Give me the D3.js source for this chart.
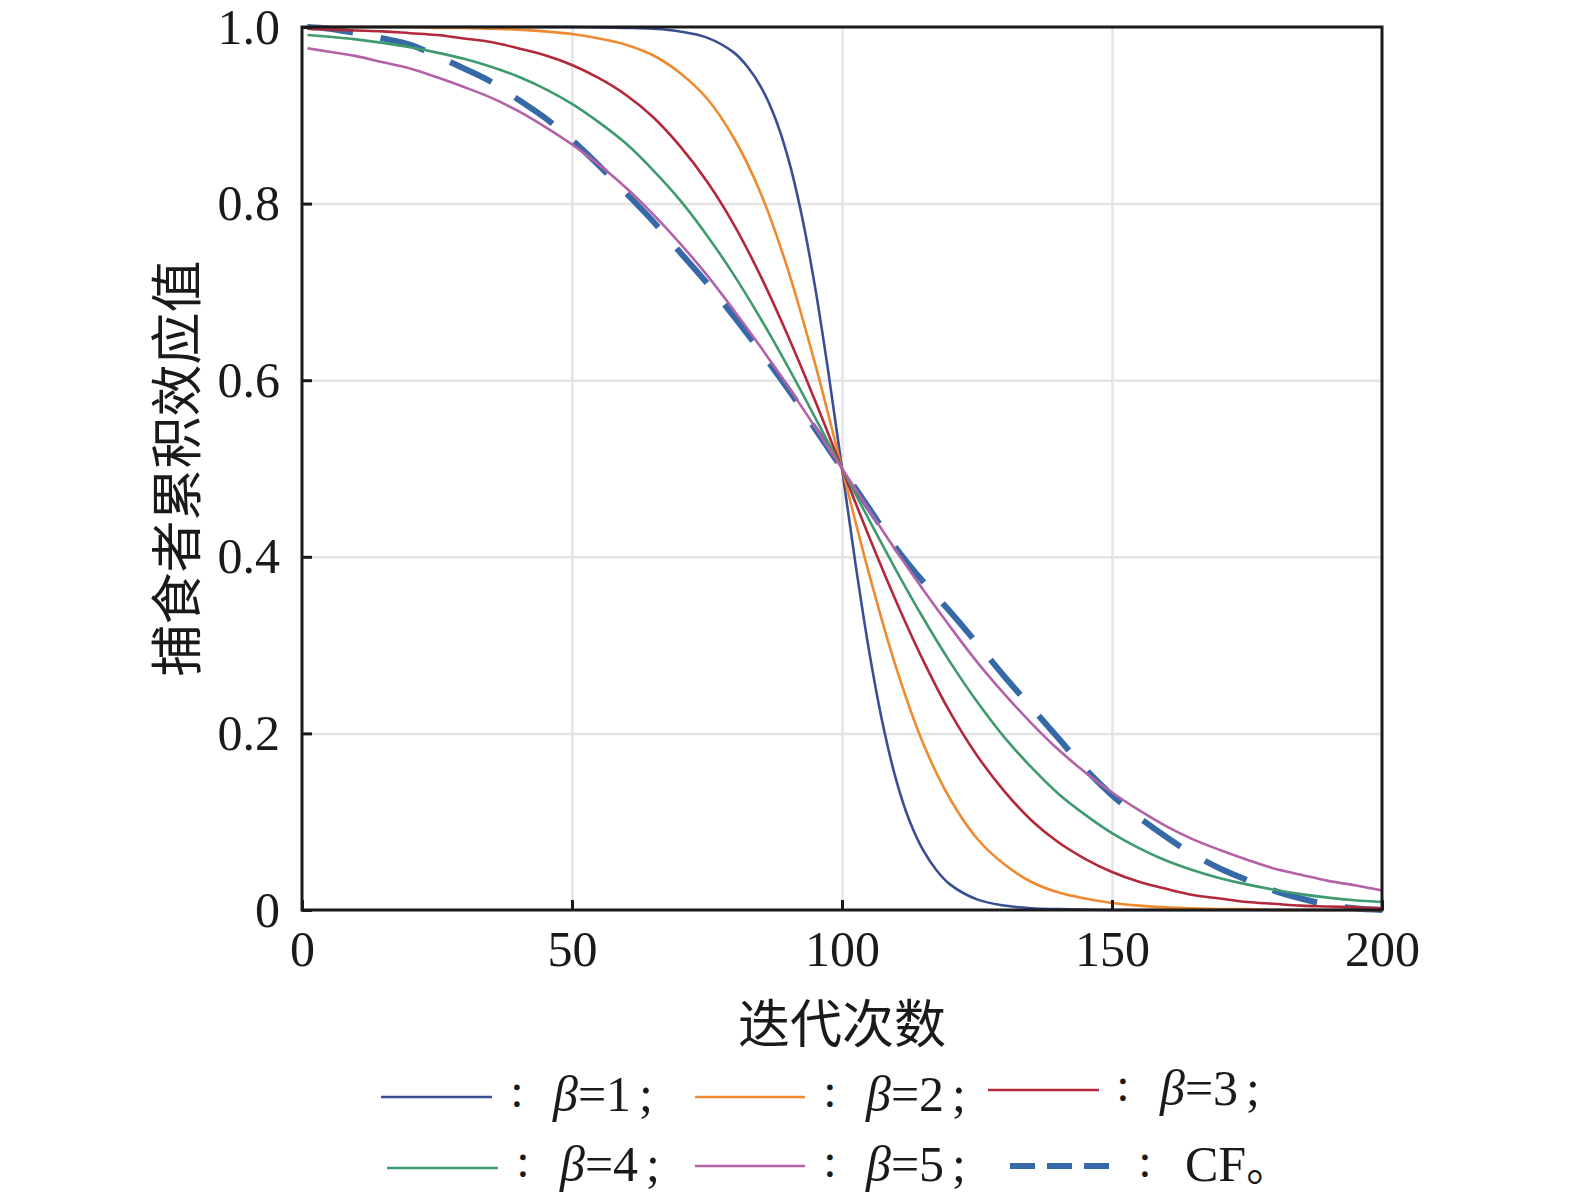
<!DOCTYPE html>
<html>
<head>
<meta charset="utf-8">
<script src="https://cdn.jsdelivr.net/npm/d3@7/dist/d3.min.js"></script>
<style>
  html, body { margin: 0; padding: 0; background: #fff; }
  svg { display: block; }
</style>
</head>
<body>
<svg id="chart" width="1575" height="1200"></svg>
<script>
// ---------------- data ----------------
const xs = [1,5,10,15,20,25,30,35,40,45,50,55,60,65,70,75,80,85,90,95,100,
            105,110,115,120,125,130,135,140,145,150,155,160,165,170,175,180,185,190,195,200];

const beta1X = [1,10,20,30,40,50,60,65,70,75,80,82.5,85,87.5,90,92.5,95,97.5,100,
                102.5,105,107.5,110,112.5,115,117.5,120,125,130,135,140,150,160,170,180,190,200];
const beta1 = [1.000,1.000,1.000,1.000,1.000,1.000,0.999,0.998,0.995,0.988,0.971,0.955,0.932,0.899,0.852,0.788,0.706,0.608,0.500,
               0.392,0.294,0.212,0.148,0.101,0.068,0.045,0.029,0.012,0.005,0.002,0.001,0.000,0.000,0.000,0.000,0.000,0.000];

const beta2 = [1.000,1.000,1.000,1.000,1.000,0.999,0.999,0.998,0.997,0.995,0.992,0.987,0.980,0.968,0.948,0.919,0.874,0.811,0.725,0.619,0.500,
               0.381,0.275,0.189,0.126,0.081,0.052,0.032,0.020,0.013,0.008,0.005,0.003,0.002,0.001,0.001,0.000,0.000,0.000,0.000,0.000];

const beta3 = [0.998,0.997,0.996,0.995,0.993,0.991,0.987,0.983,0.976,0.968,0.957,0.942,0.923,0.898,0.865,0.825,0.776,0.717,0.650,0.577,0.500,
               0.423,0.350,0.283,0.224,0.175,0.135,0.102,0.077,0.058,0.043,0.032,0.024,0.017,0.013,0.009,0.007,0.005,0.004,0.003,0.002];

const beta4 = [0.991,0.989,0.986,0.982,0.977,0.971,0.964,0.955,0.944,0.930,0.913,0.892,0.868,0.838,0.804,0.764,0.719,0.669,0.615,0.558,0.500,
               0.442,0.385,0.331,0.281,0.236,0.196,0.162,0.132,0.108,0.087,0.070,0.056,0.045,0.036,0.029,0.023,0.018,0.014,0.011,0.009];

const beta5 = [0.976,0.972,0.967,0.960,0.953,0.943,0.932,0.920,0.905,0.887,0.867,0.844,0.818,0.788,0.755,0.719,0.679,0.637,0.593,0.547,0.500,
               0.453,0.407,0.363,0.321,0.281,0.245,0.212,0.182,0.156,0.133,0.113,0.095,0.080,0.068,0.057,0.047,0.040,0.033,0.028,0.022];

const cf = [1.000,0.998,0.993,0.987,0.980,0.967,0.953,0.938,0.918,0.897,0.872,0.843,0.812,0.780,0.745,0.710,0.672,0.632,0.590,0.545,0.500,
            0.455,0.410,0.372,0.338,0.302,0.265,0.230,0.195,0.160,0.130,0.105,0.083,0.063,0.047,0.034,0.022,0.013,0.006,0.002,0.000];

const xTicks = [0, 50, 100, 150, 200];
const xTickLabels = ["0", "50", "100", "150", "200"];
const yTicks = [0, 0.2, 0.4, 0.6, 0.8, 1.0];
const yTickLabels = ["0", "0.2", "0.4", "0.6", "0.8", "1.0"];

const xTitle = "迭代次数";
const yTitle = "捕食者累积效应值";

const seriesNames = ["β=1", "β=2", "β=3", "β=4", "β=5", "CF"];
const seriesColors = ["#3a4f93", "#ee8a30", "#b3283a", "#3f9a6e", "#b462a8", "#3669a8"];

// ---------------- layout ----------------
const L = 302, R = 1382, T = 27, B = 910;
const serif = "'Liberation Serif','Times New Roman',serif";
const cjk = "'Noto Sans CJK SC','Noto Sans CJK JP',sans-serif";

const svg = d3.select("#chart");
svg.append("rect").attr("width", 1575).attr("height", 1200).attr("fill", "#fff");

const x = d3.scaleLinear().domain([0, 200]).range([L, R]);
const y = d3.scaleLinear().domain([0, 1]).range([B, T]);

// gridlines
const grid = svg.append("g");
grid.append("g")
  .attr("transform", `translate(0,${B})`)
  .call(d3.axisBottom(x).tickValues([50, 100, 150]).tickSize(-(B - T)).tickFormat(""))
  .call(g => g.select(".domain").remove())
  .call(g => g.selectAll("line").attr("stroke", "#e4e4e4").attr("stroke-width", 2.5));
grid.append("g")
  .attr("transform", `translate(${L},0)`)
  .call(d3.axisLeft(y).tickValues([0.2, 0.4, 0.6, 0.8]).tickSize(-(R - L)).tickFormat(""))
  .call(g => g.select(".domain").remove())
  .call(g => g.selectAll("line").attr("stroke", "#e4e4e4").attr("stroke-width", 2.5));

// curves
const line = d3.line().curve(d3.curveCatmullRom.alpha(0.5)).x(d => x(d[0])).y(d => y(d[1]));
const solidSeries = [
  { xv: beta1X, yv: beta1, c: seriesColors[0] },
  { xv: xs, yv: beta2, c: seriesColors[1] },
  { xv: xs, yv: beta3, c: seriesColors[2] },
  { xv: xs, yv: beta4, c: seriesColors[3] },
  { xv: xs, yv: beta5, c: seriesColors[4] }
];
const plot = svg.append("g");
plot.append("path")
  .attr("d", line(xs.map((v, i) => [v, cf[i]])))
  .attr("fill", "none").attr("stroke", seriesColors[5])
  .attr("stroke-width", 6).attr("stroke-dasharray", "46,28");
solidSeries.forEach(s => {
  plot.append("path")
    .attr("d", line(s.xv.map((v, i) => [v, s.yv[i]])))
    .attr("fill", "none").attr("stroke", s.c).attr("stroke-width", 2.6);
});

// axes
const xAxis = svg.append("g")
  .attr("transform", `translate(0,${B})`)
  .call(d3.axisBottom(x).tickValues(xTicks).tickSizeInner(-10).tickSizeOuter(0).tickPadding(20)
        .tickFormat((d, i) => xTickLabels[i]));
const yAxis = svg.append("g")
  .attr("transform", `translate(${L},0)`)
  .call(d3.axisLeft(y).tickValues(yTicks).tickSizeInner(-10).tickSizeOuter(0).tickPadding(22)
        .tickFormat((d, i) => yTickLabels[i]));
[xAxis, yAxis].forEach(a => {
  a.select(".domain").remove();
  a.selectAll("line").attr("stroke", "#1a1a1a").attr("stroke-width", 3);
  a.selectAll("text").attr("font-family", serif).attr("font-size", 50).attr("fill", "#1a1a1a");
});

// frame
svg.append("rect")
  .attr("x", L).attr("y", T).attr("width", R - L).attr("height", B - T)
  .attr("fill", "none").attr("stroke", "#1a1a1a").attr("stroke-width", 3);

// axis titles
svg.append("text")
  .attr("x", (L + R) / 2).attr("y", 1043)
  .attr("text-anchor", "middle")
  .attr("font-family", cjk).attr("font-size", 52).attr("fill", "#1a1a1a")
  .text(xTitle);
svg.append("text")
  .attr("transform", `translate(196,${(T + B) / 2}) rotate(-90)`)
  .attr("text-anchor", "middle")
  .attr("font-family", cjk).attr("font-size", 52).attr("fill", "#1a1a1a")
  .text(yTitle);

// legend
const legendItems = [
  { i: 0, x1: 381, x2: 492, ly: 1097, colon: 517, lx: 553, by: 1111 },
  { i: 1, x1: 695, x2: 805, ly: 1097, colon: 830, lx: 866, by: 1111 },
  { i: 2, x1: 988, x2: 1099, ly: 1090, colon: 1123, lx: 1160, by: 1105 },
  { i: 3, x1: 387, x2: 498, ly: 1168, colon: 523, lx: 560, by: 1181 },
  { i: 4, x1: 695, x2: 805, ly: 1166, colon: 830, lx: 866, by: 1181 },
  { i: 5, x1: 1010, x2: 1120, ly: 1166, colon: 1145, lx: 1185, by: 1181 }
];
const lg = svg.append("g");
legendItems.forEach(it => {
  const isCF = it.i === 5;
  lg.append("line")
    .attr("x1", it.x1).attr("x2", it.x2).attr("y1", it.ly).attr("y2", it.ly)
    .attr("stroke", seriesColors[it.i]).attr("stroke-width", isCF ? 6 : 2.6)
    .attr("stroke-dasharray", isCF ? "25,12" : null);
  lg.append("text")
    .attr("x", it.colon).attr("y", it.by - 4).attr("text-anchor", "middle")
    .attr("font-family", serif).attr("font-size", 48).attr("fill", "#1a1a1a")
    .text(":");
  const t = lg.append("text")
    .attr("x", it.lx).attr("y", it.by)
    .attr("font-family", serif).attr("font-size", 50).attr("fill", "#1a1a1a");
  const name = seriesNames[it.i];
  if (name.startsWith("β")) {
    t.append("tspan").attr("font-style", "italic").text("β");
    t.append("tspan").text(name.slice(1));
    t.append("tspan").attr("dx", 8).text(";");
  } else {
    t.append("tspan").text(name);
    t.append("tspan").attr("font-family", cjk).attr("font-size", 44).text("。");
  }
});
</script>
</body>
</html>
